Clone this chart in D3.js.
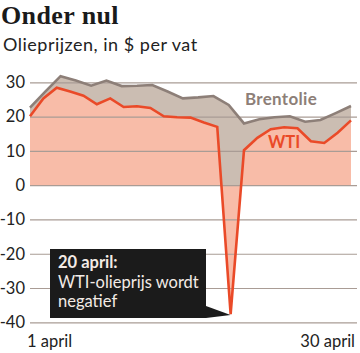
<!DOCTYPE html>
<html>
<head>
<meta charset="utf-8">
<script src="https://cdn.jsdelivr.net/npm/d3@7"></script>
<style>
  body { margin: 0; background: #fff; }
  svg { display: block; }
  .sans { font-family: Lato, "Open Sans", sans-serif; }
</style>
</head>
<body>
<div id="chart"></div>
<script>
// Oil prices in April 2020, $ per barrel
const wti = [20.1, 25.3, 28.4, 27.3, 26.1, 23.6, 25.3, 22.8, 23.0, 22.5,
             20.1, 19.8, 19.7, 18.3, 17.0, -37.6, 10.2, 13.8, 16.3, 16.9,
             16.6, 12.8, 12.3, 15.3, 18.9];
const brent = [22.6, 27.3, 31.8, 30.5, 29.0, 30.5, 28.9, 29.0, 29.2, 27.3,
               25.3, 25.6, 26.0, 23.4, 18.0, 19.2, 19.8, 20.1, 18.5, 19.0,
               21.0, 23.1];
const yTicks = [-40, -30, -20, -10, 0, 10, 20, 30];
const xLabels = ["1 april", "30 april"];
const seriesLabels = ["Brentolie", "WTI"];
const noteLines = ["20 april:", "WTI-olieprijs wordt", "negatief"];
const noteIndex = 15; // WTI point the note points at

const W = 360, H = 353;
const left = 30, right = 351, gridRight = 357;

const svg = d3.select("#chart").append("svg")
  .attr("width", W)
  .attr("height", H);

const y = d3.scaleLinear().domain([-40, 30]).range([322.3, 82.3]);
const xW = d3.scaleLinear().domain([0, wti.length - 1]).range([left, right]);
const xB = d3.scaleLinear().domain([0, brent.length - 1]).range([left, right]);

// title + subtitle
svg.append("text")
  .attr("x", 1).attr("y", 23.5)
  .attr("font-family", "'Liberation Serif', 'DejaVu Serif', serif")
  .attr("font-weight", "bold")
  .attr("font-size", 26)
  .attr("letter-spacing", 0.4)
  .attr("fill", "#1a1a1a")
  .text("Onder nul");

svg.append("text")
  .attr("class", "sans")
  .attr("x", 3).attr("y", 51)
  .attr("font-size", 18)
  .attr("letter-spacing", 0.5)
  .attr("fill", "#222")
  .text("Olieprijzen, in $ per vat");

// areas
const brentArea = d3.area()
  .x((d, i) => xB(i))
  .y0(y(0))
  .y1(d => y(d));
const wtiArea = d3.area()
  .x((d, i) => xW(i))
  .y0(y(0))
  .y1(d => y(d));

svg.append("path").datum(brent)
  .attr("d", brentArea)
  .attr("fill", "#cbbdb2");
svg.append("path").datum(wti)
  .attr("d", wtiArea)
  .attr("fill", "#f8bca8");

// gridlines + y labels
const yAxis = d3.axisLeft(y)
  .tickValues(yTicks)
  .tickSize(-(gridRight - left))
  .tickPadding(5)
  .tickFormat(d => String(d));

const gAxis = svg.append("g")
  .attr("transform", `translate(${left},0)`)
  .call(yAxis);
gAxis.select(".domain").remove();
gAxis.selectAll("line")
  .attr("stroke", "#a99c95")
  .attr("stroke-width", 1.2);
gAxis.selectAll("text")
  .attr("class", "sans")
  .attr("font-size", 16.5)
  .attr("fill", "#222");

// lines
svg.append("path").datum(brent)
  .attr("d", d3.line().x((d, i) => xB(i)).y(d => y(d)))
  .attr("fill", "none")
  .attr("stroke", "#8d7f78")
  .attr("stroke-width", 2.6)
  .attr("stroke-linejoin", "miter");

svg.append("path").datum(wti)
  .attr("d", d3.line().x((d, i) => xW(i)).y(d => y(d)))
  .attr("fill", "none")
  .attr("stroke", "#ea4a28")
  .attr("stroke-width", 2.6)
  .attr("stroke-linejoin", "miter");

// series labels
svg.append("text")
  .attr("class", "sans")
  .attr("x", 245).attr("y", 105)
  .attr("font-size", 17)
  .attr("letter-spacing", 0.3)
  .attr("font-weight", "bold")
  .attr("fill", "#8d7f78")
  .text(seriesLabels[0]);

svg.append("text")
  .attr("class", "sans")
  .attr("x", 268).attr("y", 148)
  .attr("font-size", 16.5)
  .attr("font-weight", "bold")
  .attr("fill", "#ea4a28")
  .text(seriesLabels[1]);

// note box with pointer
const tipX = xW(noteIndex), tipY = y(wti[noteIndex]);
const box = { x0: 50, y0: 249, x1: 206, y1: 318 };
svg.append("rect")
  .attr("x", box.x0).attr("y", box.y0)
  .attr("width", box.x1 - box.x0).attr("height", box.y1 - box.y0)
  .attr("fill", "#1b1b1b");
svg.append("path")
  .attr("d", `M${box.x1},${box.y1 - 12}L${tipX},${tipY + 1}L${box.x1},${box.y1}Z`)
  .attr("fill", "#1b1b1b");

svg.append("text")
  .attr("class", "sans")
  .attr("font-size", 16.5)
  .attr("fill", "#f3ebe6")
  .selectAll("tspan")
  .data(noteLines)
  .join("tspan")
  .attr("x", 58)
  .attr("y", (d, i) => 268 + i * 19.5)
  .attr("font-weight", (d, i) => i === 0 ? "bold" : "normal")
  .text(d => d);

// x labels
svg.append("text")
  .attr("class", "sans")
  .attr("x", xW(0) - 3).attr("y", 347)
  .attr("font-size", 16.5)
  .attr("fill", "#222")
  .text(xLabels[0]);
svg.append("text")
  .attr("class", "sans")
  .attr("x", xW(wti.length - 1) + 4).attr("y", 347)
  .attr("text-anchor", "end")
  .attr("font-size", 16.5)
  .attr("fill", "#222")
  .text(xLabels[1]);
</script>
</body>
</html>
